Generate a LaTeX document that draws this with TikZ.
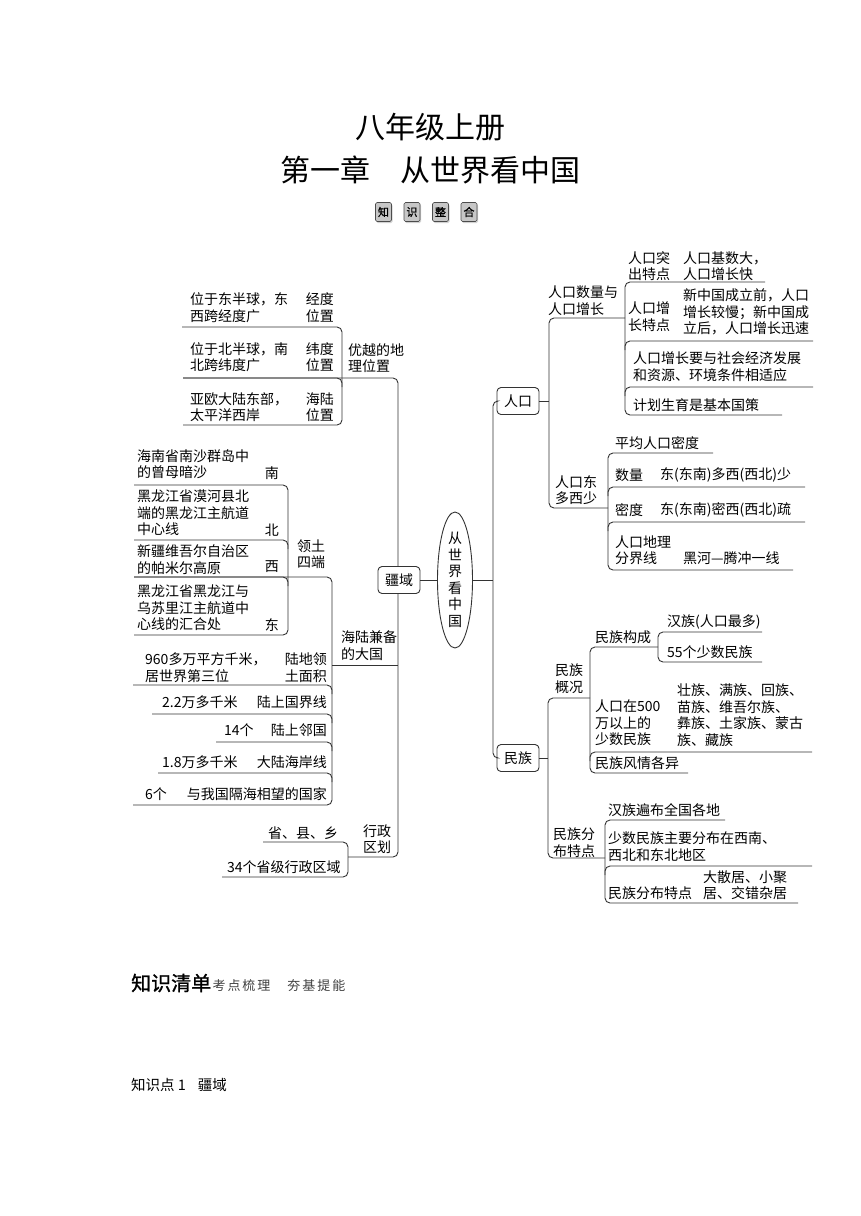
\documentclass[tikz,border=0pt]{standalone}
\usepackage{fontspec}
\setmainfont{Noto Sans CJK SC}
\newfontfamily\heavyfont{Noto Sans CJK SC}[FakeBold=1.2]
\newfontfamily\spacedfont{Noto Sans CJK SC}[LetterSpace=15]
\usetikzlibrary{shapes.geometric, shadows}

\tikzset{
  ln/.style={line width=0.9pt, draw=black!80, rounded corners=5pt},
  txt/.style={inner sep=0pt, anchor=west, align=left, font=\fontsize{14}{16.5}\selectfont},
  rtxt/.style={txt, anchor=east, align=right},
  topic/.style={draw=black!80, line width=0.9pt, rounded corners=4pt, fill=white,
    minimum width=42pt, minimum height=27pt, inner sep=0pt, font=\fontsize{14}{16}\selectfont},
  kbox/.style={draw=black!70, line width=0.6pt, fill=black!22, rounded corners=1.5pt,
    minimum width=16pt, minimum height=19pt, inner sep=0pt, font=\heavyfont\fontsize{11}{11}\selectfont,
    drop shadow={shadow xshift=1pt, shadow yshift=-1.5pt, fill=black!35}}
}
% underline meeting a bracket: left side bends down, right side comes up
\newcommand{\midl}[3]{\draw[ln] (#1,#2) -- (#3,#2) -- (#3,#2+9);}
\newcommand{\midr}[3]{\draw[ln] (#1,#2+9) -- (#1,#2) -- (#3,#2);}

\begin{document}
\begin{tikzpicture}[x=1pt, y=-1pt]
\useasboundingbox (0,0) rectangle (860,1216);

% title
\node[font=\fontsize{30}{30}\selectfont] (title1) at (430,127) {八年级上册};
\node[font=\fontsize{30}{30}\selectfont] (title2) at (430,170) {第一章\hspace{30pt}从世界看中国};
\foreach \ch [count=\i] in {知,识,整,合}
  \node[kbox] (k\i) at (355+28.5*\i,212) {\ch};

% 疆域 trunk
\draw[ln] (183,378) -- (398,378) -- (398,857) -- (348,857);

% 优越的地理位置
\node[txt] (a1) at (190,307.5) {位于东半球，东\\西跨经度广};
\node[rtxt] (a1r) at (334,307.5) {经度\\位置};
\node[txt] (a2) at (190,357) {位于北半球，南\\北跨纬度广};
\node[rtxt] (a2r) at (334,357) {纬度\\位置};
\node[txt] (a3) at (190,407) {亚欧大陆东部，\\太平洋西岸};
\node[rtxt] (a3r) at (334,407) {海陆\\位置};
\node[txt] (youyue) at (348,358) {优越的地\\理位置};
\draw[ln] (182,327) -- (342,327) -- (342,425) -- (183,425);
\midl{183}{378}{342}

% 领土四端
\node[txt] (b1) at (137,464) {海南省南沙群岛中\\的曾母暗沙};
\node[rtxt] (b1r) at (279,473) {南};
\node[txt] (b2) at (137,513) {黑龙江省漠河县北\\端的黑龙江主航道\\中心线};
\node[rtxt] (b2r) at (279,530) {北};
\node[txt] (b3) at (137,559.5) {新疆维吾尔自治区\\的帕米尔高原};
\node[rtxt] (b3r) at (279,567) {西};
\node[txt] (b4) at (137,608) {黑龙江省黑龙江与\\乌苏里江主航道中\\心线的汇合处};
\node[rtxt] (b4r) at (279,625) {东};
\node[txt] (sidian) at (297,554) {领土\\四端};
\draw[ln] (134,485) -- (288,485) -- (288,635) -- (134,635);
\midl{134}{540}{288}
\midl{134}{577}{288}

% 海陆兼备的大国
\node[txt] (c1) at (145,667.5) {960多万平方千米，\\居世界第三位};
\node[rtxt] (c1r) at (327,667.5) {陆地领\\土面积};
\node[txt] (c2) at (162,702) {2.2万多千米};
\node[rtxt] (c2r) at (327,702) {陆上国界线};
\node[txt] (c3) at (224,730) {14个};
\node[rtxt] (c3r) at (327,730) {陆上邻国};
\node[txt] (c4) at (162,762) {1.8万多千米};
\node[rtxt] (c4r) at (327,762) {大陆海岸线};
\node[txt] (c5) at (145,794) {6个};
\node[rtxt] (c5r) at (327,794) {与我国隔海相望的国家};
\node[txt] (dagu) at (341,645.5) {海陆兼备\\的大国};
\draw[ln] (134,577) -- (332,577) -- (332,805) -- (133,805);
\midl{133}{685}{332}
\midl{152}{714}{332}
\midl{216}{742}{332}
\midl{158}{773}{332}
\draw[ln] (332,665) -- (398,665);

% 行政区划
\node[txt] (d1) at (268,833) {省、县、乡};
\node[txt] (d2) at (227,867) {34个省级行政区域};
\node[txt] (xingzheng) at (363,839) {行政\\区划};
\draw[ln] (263,842) -- (348,842) -- (348,877) -- (222,877);

% centre
\node[topic] (jiangyu) at (399,580) {疆域};
\node[topic] (renkou) at (518,401) {人口};
\node[topic] (minzu) at (518,758) {民族};
\node[draw=black!80, line width=0.9pt, ellipse, minimum width=35pt, minimum height=136pt,
  inner sep=0pt, align=center, font=\fontsize{14}{16.5}\selectfont] (china) at (455,580) {从\\世\\界\\看\\中\\国};
\coordinate (rtrunk) at (493,580);
\draw[ln] (jiangyu) -- (china);
\draw[ln] (china) -- (rtrunk);
\draw[ln] (renkou.west) -| (rtrunk) |- (minzu.west);

% 人口
\draw[ln] (renkou.east) -- ++(10,0);
\draw[ln] (625,318) -- (549,318) -- (549,508) -- (608,508);

% 人口数量与人口增长
\node[txt] (e1) at (628,266) {人口突\\出特点};
\node[txt] (e1r) at (683,266) {人口基数大，\\人口增长快};
\node[txt] (e2) at (628,316.5) {人口增\\长特点};
\node[txt] (e2r) at (683,312) {新中国成立前，人口\\增长较慢；新中国成\\立后，人口增长迅速};
\node[txt] (e3) at (633,366.5) {人口增长要与社会经济发展\\和资源、环境条件相适应};
\node[txt] (e4) at (633,405) {计划生育是基本国策};
\node[txt] (zengzhang) at (548,300.5) {人口数量与\\人口增长};
\draw[ln] (765,282) -- (625,282) -- (625,415) -- (782,415);
\midr{625}{341}{813}
\midr{625}{387}{813}

% 人口东多西少
\node[txt] (f1) at (615,443) {平均人口密度};
\node[txt] (f2) at (615,475) {数量};
\node[txt] (f2r) at (660,475) {东(东南)多西(西北)少};
\node[txt] (f3) at (615,510) {密度};
\node[txt] (f3r) at (660,510) {东(东南)密西(西北)疏};
\node[txt] (f4) at (615,550) {人口地理\\分界线};
\node[txt] (f4r) at (683,558) {黑河—腾冲一线};
\node[txt] (dongxi) at (555,490) {人口东\\多西少};
\draw[ln] (713,453) -- (608,453) -- (608,570) -- (793,570);
\midr{608}{487}{805}
\midr{608}{522}{805}

% 民族
\draw[ln] (minzu.east) -- ++(9,0);
\draw[ln] (590,698) -- (548,698) -- (548,858) -- (605,858);

% 民族概况
\node[txt] (g1) at (595,637) {民族构成};
\node[txt] (g1a) at (667,622) {汉族(人口最多)};
\node[txt] (g1b) at (667,652) {55个少数民族};
\node[txt] (g2) at (595,723) {人口在500\\万以上的\\少数民族};
\node[txt] (g2r) at (677,715) {壮族、满族、回族、\\苗族、维吾尔族、\\彝族、土家族、蒙古\\族、藏族};
\node[txt] (g3) at (595,763) {民族风情各异};
\node[txt] (gaikuang) at (555,678.5) {民族\\概况};
\draw[ln] (658,647) -- (590,647) -- (590,773) -- (688,773);
\midr{590}{752}{812}
\draw[ln] (762,632) -- (658,632) -- (658,662) -- (762,662);

% 民族分布特点
\node[txt] (h1) at (608,810) {汉族遍布全国各地};
\node[txt] (h2) at (608,846.5) {少数民族主要分布在西南、\\西北和东北地区};
\node[txt] (h3) at (608,893) {民族分布特点};
\node[txt] (h3r) at (703,885) {大散居、小聚\\居、交错杂居};
\node[txt] (fenbu) at (553,842.5) {民族分\\布特点};
\draw[ln] (725,820) -- (605,820) -- (605,903) -- (798,903);
\midr{605}{866}{812}

% below the map
\node[anchor=west, inner sep=0pt, font=\heavyfont\fontsize{20}{20}\selectfont] (qingdan) at (131,983) {知识清单};
\node[anchor=base west, inner sep=0pt, text=black!75, font=\spacedfont\fontsize{13}{13}\selectfont]
  (tineng) at ([xshift=1pt]qingdan.base east) {考点梳理\hspace{17pt}夯基提能};
\node[anchor=west, inner sep=0pt, font=\fontsize{14.5}{15}\selectfont] (zsd) at (131,1085) {知识点 1\hspace{12pt}疆域};
\end{tikzpicture}
\end{document}
